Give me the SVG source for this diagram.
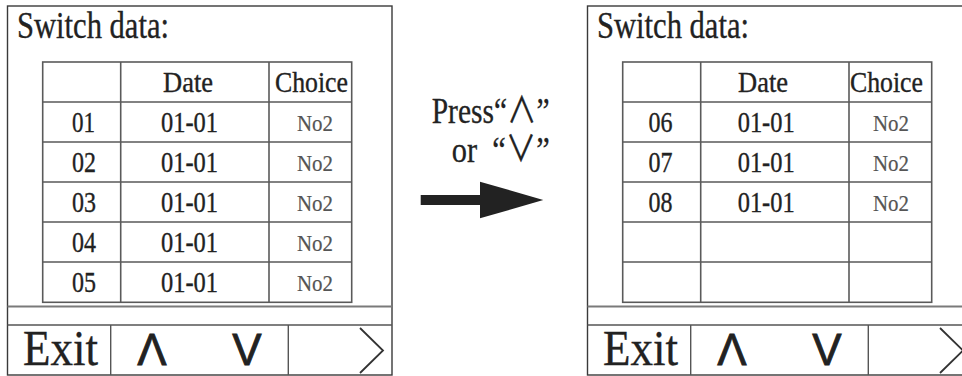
<svg xmlns="http://www.w3.org/2000/svg" width="962" height="376" viewBox="0 0 962 376">
<style>
.frame{fill:none;stroke:#3a3a3a;stroke-width:1.4}
.bar{stroke:#7a7a7a;stroke-width:2.2}
.bar2{stroke:#555;stroke-width:1.4}
.grid{fill:none;stroke:#5a5a5a;stroke-width:1.6}
.t{font-family:"Liberation Serif","Times New Roman",serif;fill:#222;stroke:#222;stroke-width:0.35}
.ttl{font-size:38px}
.cell{font-size:30px}
.no{font-size:24px;fill:#555;stroke:#555;stroke-width:0.2}
.exit{font-size:50px}
.mid{font-family:"Liberation Serif","Noto Sans CJK SC",serif;font-size:36px;fill:#222;stroke:#222;stroke-width:0.3;white-space:pre}
.btn{font-family:"Liberation Sans",Arial,sans-serif;font-size:44px;fill:#222;stroke:#222;stroke-width:0.8;text-anchor:middle}
.chev{fill:none;stroke:#333;stroke-width:1.8}
</style>
<rect width="962" height="376" fill="#fff"/>

<g id="screen-left">
  <rect class="frame" x="7.5" y="6" width="384.5" height="369"/>
  <line class="bar" x1="7.5" y1="306.5" x2="392" y2="306.5"/>
  <line class="bar2" x1="7.5" y1="325" x2="392" y2="325"/>
  <line class="bar2" x1="110.7" y1="325" x2="110.7" y2="375"/>
  <line class="bar2" x1="288.3" y1="325" x2="288.3" y2="375"/>
  <rect class="grid" x="42.7" y="62" width="309" height="240.3"/>
  <path class="grid" d="M120.7 62V302.3M269 62V302.3M42.7 102H351.7M42.7 142H351.7M42.7 182H351.7M42.7 222H351.7M42.7 262H351.7"/>
  <text class="t ttl" x="17" y="37.5" textLength="152" lengthAdjust="spacingAndGlyphs">Switch data:</text>
  <text class="t cell" x="163" y="92" textLength="50" lengthAdjust="spacingAndGlyphs">Date</text>
  <text class="t cell" x="275" y="92" textLength="73" lengthAdjust="spacingAndGlyphs">Choice</text>
  <text class="t cell" x="72" y="132" textLength="23" lengthAdjust="spacingAndGlyphs">01</text>
  <text class="t cell" x="72" y="172" textLength="24" lengthAdjust="spacingAndGlyphs">02</text>
  <text class="t cell" x="72" y="212" textLength="24" lengthAdjust="spacingAndGlyphs">03</text>
  <text class="t cell" x="72" y="252" textLength="24" lengthAdjust="spacingAndGlyphs">04</text>
  <text class="t cell" x="72" y="292" textLength="24" lengthAdjust="spacingAndGlyphs">05</text>
  <text class="t cell" x="161" y="132" textLength="57" lengthAdjust="spacingAndGlyphs">01-01</text>
  <text class="t cell" x="161" y="172" textLength="57" lengthAdjust="spacingAndGlyphs">01-01</text>
  <text class="t cell" x="161" y="212" textLength="57" lengthAdjust="spacingAndGlyphs">01-01</text>
  <text class="t cell" x="161" y="252" textLength="57" lengthAdjust="spacingAndGlyphs">01-01</text>
  <text class="t cell" x="161" y="292" textLength="57" lengthAdjust="spacingAndGlyphs">01-01</text>
  <text class="t no" x="297" y="131" textLength="36" lengthAdjust="spacingAndGlyphs">No2</text>
  <text class="t no" x="297" y="171" textLength="36" lengthAdjust="spacingAndGlyphs">No2</text>
  <text class="t no" x="297" y="211" textLength="36" lengthAdjust="spacingAndGlyphs">No2</text>
  <text class="t no" x="297" y="251" textLength="36" lengthAdjust="spacingAndGlyphs">No2</text>
  <text class="t no" x="297" y="291" textLength="36" lengthAdjust="spacingAndGlyphs">No2</text>
  <text class="t exit" x="23" y="365" textLength="75" lengthAdjust="spacingAndGlyphs">Exit</text>
  <text class="btn" x="152" y="365">Λ</text>
  <text class="btn" x="247" y="365">V</text>
  <polyline class="chev" points="360,328 383,350.5 360,373"/>
</g>

<g id="label-press">
  <text class="mid" x="431.7" y="123" textLength="118" lengthAdjust="spacingAndGlyphs">Press“∧”</text>
  <text class="mid" x="451.7" y="161.7" textLength="98" lengthAdjust="spacingAndGlyphs">or  “∨”</text>
</g>

<g id="connectors">
  <polygon fill="#222" points="420.7,195 480,195 480,181.7 543.3,200 480,218.3 480,205 420.7,205"/>
</g>

<g id="screen-right">
  <rect class="frame" x="587.5" y="6" width="384.5" height="369"/>
  <line class="bar" x1="587.5" y1="306.5" x2="962" y2="306.5"/>
  <line class="bar2" x1="587.5" y1="325" x2="962" y2="325"/>
  <line class="bar2" x1="690.7" y1="325" x2="690.7" y2="375"/>
  <line class="bar2" x1="868.3" y1="325" x2="868.3" y2="375"/>
  <rect class="grid" x="622.7" y="62" width="309" height="240.3"/>
  <path class="grid" d="M700.7 62V302.3M849 62V302.3M622.7 102H931.7M622.7 142H931.7M622.7 182H931.7M622.7 222H931.7M622.7 262H931.7"/>
  <text class="t ttl" x="597" y="37.5" textLength="152" lengthAdjust="spacingAndGlyphs">Switch data:</text>
  <text class="t cell" x="738" y="92" textLength="50" lengthAdjust="spacingAndGlyphs">Date</text>
  <text class="t cell" x="850" y="92" textLength="73" lengthAdjust="spacingAndGlyphs">Choice</text>
  <text class="t cell" x="648.5" y="132" textLength="24" lengthAdjust="spacingAndGlyphs">06</text>
  <text class="t cell" x="648.5" y="172" textLength="24" lengthAdjust="spacingAndGlyphs">07</text>
  <text class="t cell" x="648.5" y="212" textLength="24" lengthAdjust="spacingAndGlyphs">08</text>
  <text class="t cell" x="737.7" y="132" textLength="57" lengthAdjust="spacingAndGlyphs">01-01</text>
  <text class="t cell" x="737.7" y="172" textLength="57" lengthAdjust="spacingAndGlyphs">01-01</text>
  <text class="t cell" x="737.7" y="212" textLength="57" lengthAdjust="spacingAndGlyphs">01-01</text>
  <text class="t no" x="873" y="131" textLength="36" lengthAdjust="spacingAndGlyphs">No2</text>
  <text class="t no" x="873" y="171" textLength="36" lengthAdjust="spacingAndGlyphs">No2</text>
  <text class="t no" x="873" y="211" textLength="36" lengthAdjust="spacingAndGlyphs">No2</text>
  <text class="t exit" x="603" y="365" textLength="75" lengthAdjust="spacingAndGlyphs">Exit</text>
  <text class="btn" x="732" y="365">Λ</text>
  <text class="btn" x="827" y="365">V</text>
  <polyline class="chev" points="940,328 963,350.5 940,373"/>
</g>
</svg>
